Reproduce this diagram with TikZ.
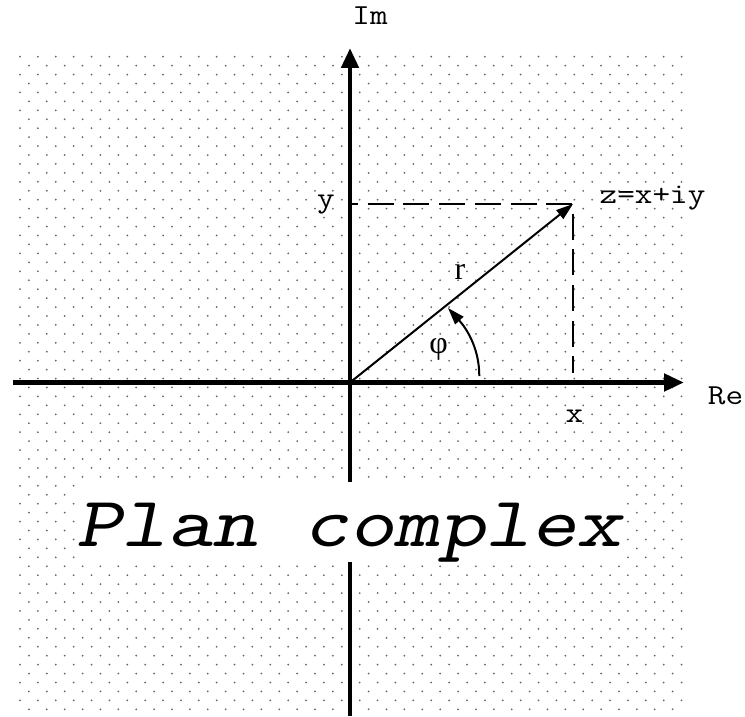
\documentclass[tikz,border=0pt]{standalone}
\usepackage{fontspec}
\setmainfont{Liberation Serif}
\usetikzlibrary{arrows.meta}
\newcommand\courtext[1]{\scalebox{1.18}[1]{\ttfamily #1}}
\begin{document}
\begin{tikzpicture}[x=1pt,y=1pt,
  axis/.style={line width=4.8pt, -{Triangle[length=20pt,width=17pt]}},
  vec/.style={line width=2pt, -{Triangle[length=17pt,width=11pt]}},
  guide/.style={line width=1.8pt, dash pattern=on 26pt off 9.7pt},
  lbl/.style={font=\fontsize{29}{29}\selectfont, inner sep=0pt},
  greek/.style={font=\fontsize{32}{32}\selectfont, inner sep=0pt},
  dotfill/.style={fill=black!60}]
\useasboundingbox (0,0) rectangle (745,716);
% dotted background
\begin{scope}
\clip (12,2) rectangle (686,662);
\foreach \r in {0,...,73} {
  \pgfmathsetmacro\yy{716-56.7-8.94*\r}
  \pgfmathsetmacro\xo{mod(\r,2)==0 ? 20 : 11.06}
  \foreach \c in {0,...,38} { \fill[dotfill] ({\xo+17.88*\c},\yy) circle (1pt); }
}
\end{scope}
% coordinates
\coordinate (O) at (350,333.5);
\coordinate (Z) at (573,512);
\coordinate (ReS) at (13,333.5);
\coordinate (ReE) at (684,333.5);
\coordinate (ImS) at (350,0);
\coordinate (ImE) at (350,668);
\coordinate (Zy) at (350,512);
\coordinate (Zx) at (573,343);
\coordinate (A1) at (479.3,340);
\coordinate (A2) at (448,408);
% axes
\draw[axis] (ReS) -- (ReE);
\draw[axis] (ImS) -- (ImE);
% title box
\node[font=\fontsize{71}{71}\selectfont, fill=white, inner sep=0pt,
      text height=64pt, text depth=16pt, anchor=base] (plan) at (349.2,170)
      {\scalebox{1.22}[1]{\ttfamily\slshape Plan complex}};
% projections
\draw[guide, dash phase=18pt] (Zy) -- (Z);
\draw[guide, dash phase=26pt] (Z) -- (Zx);
% vector and angle
\draw[vec] (O) -- (Z);
\draw[vec] (A1) .. controls (479.3,370) and (464.7,389.5) .. (A2);
% labels
\node[lbl, anchor=base] (im) at (370,691) {\courtext{Im}};
\node[lbl, anchor=base] (re) at (725.5,311) {\courtext{Re}};
\node[lbl, anchor=base] (xl) at (574.5,293) {\courtext{x}};
\node[lbl, anchor=base] (yl) at (326,508) {\courtext{y}};
\node[lbl, anchor=base] (zl) at (652.5,512) {\courtext{z=x+iy}};
\node[greek, anchor=base] (rl) at (460,436) {r};
\node[greek] (phil) at (438.5,367) {φ};
\end{tikzpicture}
\end{document}
